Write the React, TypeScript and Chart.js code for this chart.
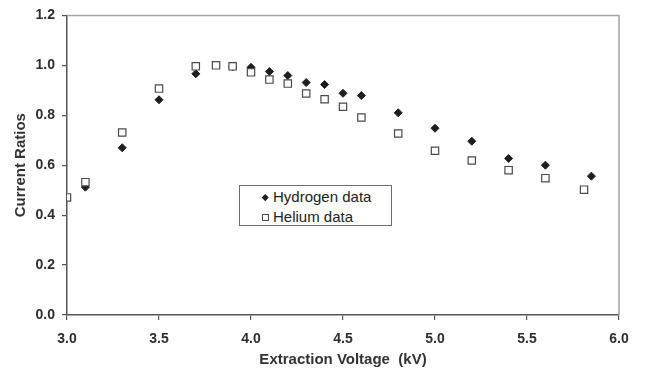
import React, { useEffect, useRef } from "react";
import { Chart, registerables } from "chart.js";

Chart.register(...registerables);

const hydrogenVoltage = [3.1, 3.3, 3.5, 3.7, 3.9, 4.0, 4.1, 4.2, 4.3, 4.4, 4.5, 4.6, 4.8, 5.0, 5.2, 5.4, 5.6, 5.85];
const hydrogenRatio = [0.512, 0.67, 0.862, 0.966, 0.994, 0.992, 0.975, 0.959, 0.931, 0.923, 0.888, 0.879, 0.81, 0.748, 0.696, 0.627, 0.6, 0.556];

const heliumVoltage = [3.0, 3.1, 3.3, 3.5, 3.7, 3.81, 3.9, 4.0, 4.1, 4.2, 4.3, 4.4, 4.5, 4.6, 4.8, 5.0, 5.2, 5.4, 5.6, 5.81];
const heliumRatio = [0.471, 0.532, 0.731, 0.907, 0.996, 1.0, 0.996, 0.972, 0.943, 0.927, 0.887, 0.864, 0.834, 0.791, 0.727, 0.658, 0.619, 0.58, 0.548, 0.502];

const seriesNames = ["Hydrogen data", "Helium data"];
const xTitle = "Extraction Voltage  (kV)";
const yTitle = "Current Ratios";
const xRange = [3.0, 6.0];
const yRange = [0.0, 1.2];

const FONT = "'Liberation Sans', Arial, Helvetica, sans-serif";

const framePlugin = {
  id: "frame",
  afterDraw(chart: any) {
    const { ctx, chartArea } = chart;
    ctx.save();
    ctx.strokeStyle = "#a7a3a3";
    ctx.lineWidth = 1.5;
    ctx.beginPath();
    ctx.moveTo(chartArea.left, chartArea.top);
    ctx.lineTo(chartArea.right, chartArea.top);
    ctx.lineTo(chartArea.right, chartArea.bottom);
    ctx.stroke();
    ctx.restore();
  },
};

export default function App() {
  const ref = useRef<HTMLCanvasElement | null>(null);

  useEffect(() => {
    if (!ref.current) return;
    const chart = new Chart(ref.current, {
      type: "scatter",
      data: {
        datasets: [
          {
            label: seriesNames[0],
            data: hydrogenVoltage.map((x, i) => ({ x, y: hydrogenRatio[i] })),
            pointStyle: "rectRot",
            pointRadius: 4,
            pointBackgroundColor: "#1e1e1e",
            pointBorderColor: "#1e1e1e",
            pointBorderWidth: 1,
            order: 2,
          },
          {
            label: seriesNames[1],
            data: heliumVoltage.map((x, i) => ({ x, y: heliumRatio[i] })),
            pointStyle: "rect",
            pointRadius: 5.2,
            pointBackgroundColor: "#ffffff",
            pointBorderColor: "#4a4a4a",
            pointBorderWidth: 1.2,
            order: 1,
          },
        ],
      },
      options: {
        animation: false,
        responsive: false,
        devicePixelRatio: 1,
        layout: { padding: { top: 14, right: 27, left: 0, bottom: 0 } },
        plugins: {
          legend: { display: false },
          tooltip: { enabled: false },
        },
        scales: {
          x: {
            type: "linear",
            min: xRange[0],
            max: xRange[1],
            afterFit(scale: any) {
              scale.height = 57;
            },
            ticks: {
              stepSize: 0.5,
              padding: 11,
              color: "#2e2e2e",
              font: { family: FONT, size: 14, weight: "bold" },
              callback: (v: any) => Number(v).toFixed(1),
            },
            grid: {
              drawOnChartArea: false,
              drawTicks: true,
              tickLength: 5,
              color: "#555555",
              lineWidth: 1.2,
            },
            border: { display: true, color: "#555555", width: 1.5 },
            title: {
              display: true,
              text: xTitle,
              color: "#333333",
              font: { family: FONT, size: 15, weight: "bold" },
              padding: { top: 0, bottom: 3 },
            },
          },
          y: {
            type: "linear",
            min: yRange[0],
            max: yRange[1],
            afterFit(scale: any) {
              scale.width = 67;
            },
            ticks: {
              stepSize: 0.2,
              padding: 7,
              color: "#2e2e2e",
              font: { family: FONT, size: 14, weight: "bold" },
              callback: (v: any) => Number(v).toFixed(1),
            },
            grid: {
              drawOnChartArea: false,
              drawTicks: true,
              tickLength: 5,
              color: "#555555",
              lineWidth: 1.2,
            },
            border: { display: true, color: "#555555", width: 1.5 },
            title: {
              display: true,
              text: yTitle,
              color: "#333333",
              font: { family: FONT, size: 15, weight: "bold" },
              padding: { top: 12, bottom: 0 },
            },
          },
        },
      },
      plugins: [framePlugin],
    } as any);
    return () => chart.destroy();
  }, []);

  const rowStyle: React.CSSProperties = {
    position: "absolute",
    left: 0,
    height: 18,
    lineHeight: "18px",
    fontFamily: FONT,
    fontSize: 15,
    color: "#222",
    whiteSpace: "nowrap",
  };

  return (
    <div style={{ position: "fixed", left: 0, top: 0, width: 646, height: 372, background: "#fff" }}>
      <canvas ref={ref} width={646} height={372} style={{ display: "block", width: 646, height: 372 }} />
      <div
        style={{
          position: "absolute",
          left: 239,
          top: 185,
          width: 153,
          height: 41,
          boxSizing: "border-box",
          border: "1px solid #6e6e6e",
          background: "#fff",
        }}
      >
        <div style={{ ...rowStyle, top: 2 }}>
          <span
            style={{
              position: "absolute",
              left: 23,
              top: 7,
              width: 4.5,
              height: 4.5,
              background: "#1e1e1e",
              transform: "rotate(45deg)",
            }}
          />
          <span style={{ position: "absolute", left: 33, top: 0 }}>{seriesNames[0]}</span>
        </div>
        <div style={{ ...rowStyle, top: 22 }}>
          <span
            style={{
              position: "absolute",
              left: 22,
              top: 6,
              width: 7,
              height: 7,
              boxSizing: "border-box",
              border: "1px solid #4a4a4a",
              background: "#fff",
            }}
          />
          <span style={{ position: "absolute", left: 33, top: 0 }}>{seriesNames[1]}</span>
        </div>
      </div>
    </div>
  );
}
